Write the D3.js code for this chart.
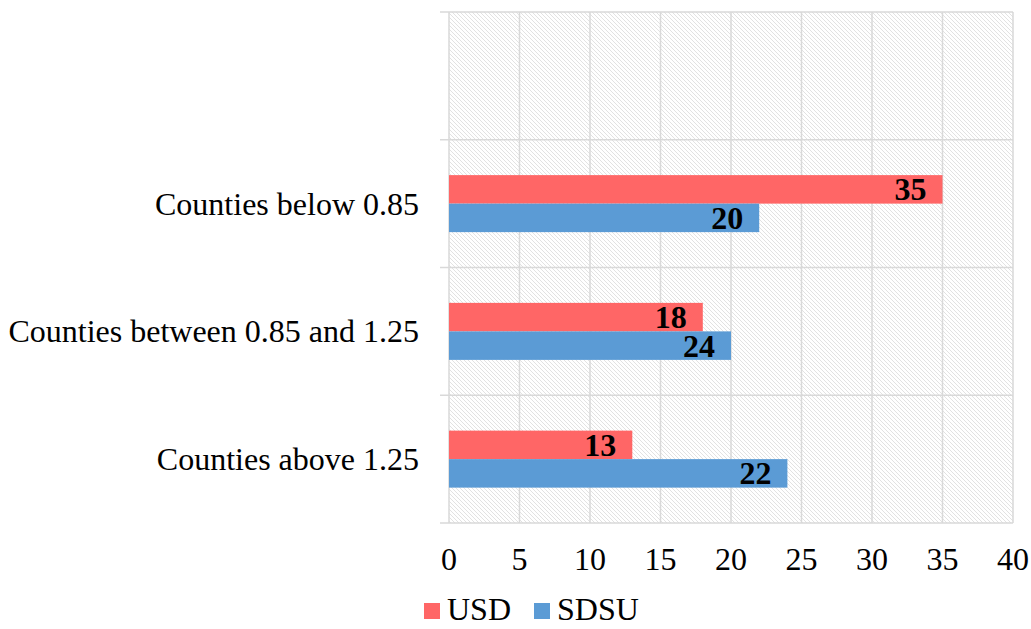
<!DOCTYPE html>
<html>
<head>
<meta charset="utf-8">
<script src="https://cdn.jsdelivr.net/npm/d3@7"></script>
<style>
  body { margin: 0; background: #fff; }
  svg text { font-family: "Liberation Serif", "Times New Roman", Times, "DejaVu Serif", serif; }
</style>
</head>
<body>
<div id="chart"></div>
<script>
// categories, top to bottom (the top band is empty in the original)
const categories = ["", "Counties below 0.85", "Counties between 0.85 and 1.25", "Counties above 1.25"];
const series = ["USD", "SDSU"];
const usdValues = [null, 35, 18, 13];
const sdsuValues = [null, 22, 20, 24];
// the printed data labels do not always match the bar lengths
const usdLabels = [null, 35, 18, 13];
const sdsuLabels = [null, 20, 24, 22];
const xTicks = [0, 5, 10, 15, 20, 25, 30, 35, 40];
const colors = ["#ff6666", "#5b9bd5"];

window.addEventListener('load', drawChart);

function drawChart() {
  let width = 1031, height = 629;
  let margin = {top: 12, right: 18, bottom: 106, left: 449};
  let serif = "Liberation Serif, Times New Roman, serif";

  let svg = d3.select("#chart").append("svg")
      .attr("width", width)
      .attr("height", height)
      .attr("font-family", serif);

  let defs = svg.append("defs");
  let pat = defs.append("pattern")
      .attr("id", "hatch")
      .attr("patternUnits", "userSpaceOnUse")
      .attr("width", 4)
      .attr("height", 4);
  pat.append("rect").attr("width", 4).attr("height", 4).attr("fill", "#fff");
  pat.append("path")
      .attr("d", "M0,0L4,4M-1,3L1,5M3,-1L5,1")
      .attr("stroke", "#e2e2e2")
      .attr("stroke-width", 1);

  let x = d3.scaleLinear()
      .domain([0, 40])
      .range([margin.left, width - margin.right]);

  let y = d3.scaleBand()
      .domain(categories)
      .range([margin.top, height - margin.bottom]);

  let inner = d3.scaleBand()
      .domain(series)
      .range([0, 57])
      .paddingInner(0);

  // plot background
  svg.append("rect")
      .attr("x", x(0))
      .attr("y", y.range()[0])
      .attr("width", x(40) - x(0))
      .attr("height", y.range()[1] - y.range()[0])
      .attr("fill", "url(#hatch)");

  // vertical grid lines
  svg.append("g")
      .selectAll("line")
      .data(xTicks)
      .join("line")
        .attr("x1", d => x(d))
        .attr("x2", d => x(d))
        .attr("y1", y.range()[0])
        .attr("y2", y.range()[1])
        .attr("stroke", "#d9d9d9")
        .attr("stroke-width", 1.5);

  // horizontal band separators
  let bounds = categories.map(c => y(c)).concat([y.range()[1]]);
  svg.append("g")
      .selectAll("line")
      .data(bounds)
      .join("line")
        .attr("x1", x(0) - 9)
        .attr("x2", x(40))
        .attr("y1", d => d)
        .attr("y2", d => d)
        .attr("stroke", "#d9d9d9")
        .attr("stroke-width", 1.5);

  // bars
  let rows = [];
  categories.forEach((c, i) => {
    if (usdValues[i] != null) rows.push({cat: c, s: "USD", v: usdValues[i], label: usdLabels[i], color: colors[0]});
    if (sdsuValues[i] != null) rows.push({cat: c, s: "SDSU", v: sdsuValues[i], label: sdsuLabels[i], color: colors[1]});
  });

  let barY = d => y(d.cat) + (y.bandwidth() - 57) / 2 + inner(d.s);

  svg.append("g")
      .selectAll("rect")
      .data(rows)
      .join("rect")
        .attr("x", x(0))
        .attr("y", barY)
        .attr("width", d => x(d.v) - x(0))
        .attr("height", inner.bandwidth())
        .attr("fill", d => d.color);

  svg.append("g")
      .selectAll("text")
      .data(rows)
      .join("text")
        .attr("x", d => x(d.v) - 16)
        .attr("y", d => barY(d) + inner.bandwidth() / 2)
        .attr("dy", "0.34em")
        .attr("text-anchor", "end")
        .attr("font-size", 32)
        .attr("font-weight", "bold")
        .attr("fill", "#000")
        .text(d => d.label);

  // category labels
  svg.append("g")
      .selectAll("text")
      .data(categories.filter(c => c !== ""))
      .join("text")
        .attr("x", x(0) - 30)
        .attr("y", d => y(d) + y.bandwidth() / 2)
        .attr("dy", "0.34em")
        .attr("text-anchor", "end")
        .attr("font-size", 32)
        .attr("fill", "#000")
        .text(d => d);

  // x axis tick labels
  svg.append("g")
      .selectAll("text")
      .data(xTicks)
      .join("text")
        .attr("x", d => x(d))
        .attr("y", 570)
        .attr("text-anchor", "middle")
        .attr("font-size", 32)
        .attr("fill", "#000")
        .text(d => d);

  // legend (nudged up so the text is not clipped at the bottom edge)
  let legendX = [424, 534];
  let leg = svg.append("g")
      .selectAll("g")
      .data(series)
      .join("g")
        .attr("transform", (d, i) => `translate(${legendX[i]},603)`);

  leg.append("rect")
      .attr("width", 16)
      .attr("height", 16)
      .attr("fill", (d, i) => colors[i]);

  leg.append("text")
      .attr("x", 23)
      .attr("y", 17)
      .attr("font-size", 32)
      .attr("fill", "#000")
      .text(d => d);
}
</script>
</body>
</html>
